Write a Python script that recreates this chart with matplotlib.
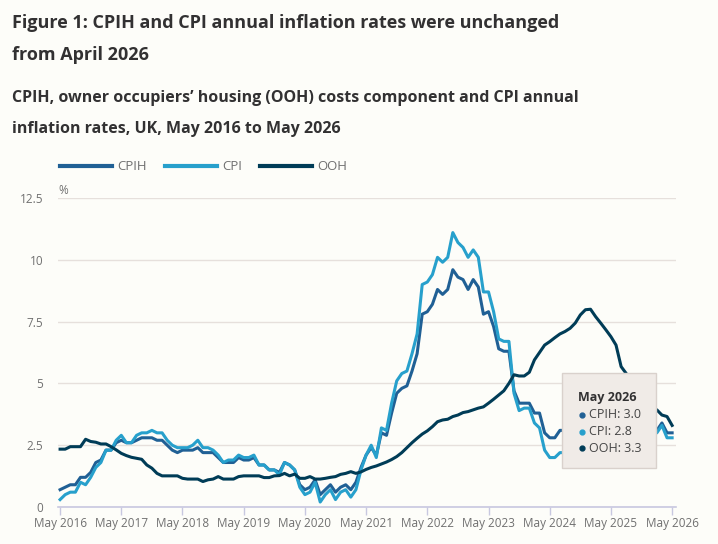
import matplotlib
matplotlib.use("Agg")
import matplotlib.pyplot as plt
import numpy as np
from matplotlib.lines import Line2D
from matplotlib.patches import Rectangle

# ── Data (monthly, May 2016 .. May 2026) ───────────────────────────────────────
cpih = [0.7, 0.8, 0.9, 0.9, 1.2, 1.2, 1.4, 1.8,
        1.9, 2.3, 2.3, 2.6, 2.7, 2.6, 2.6, 2.7, 2.8, 2.8, 2.8, 2.7,
        2.7, 2.5, 2.3, 2.2, 2.3, 2.3, 2.3, 2.4, 2.2, 2.2, 2.2, 2.0,
        1.8, 1.8, 1.8, 2.0, 1.9, 1.9, 2.0, 1.7, 1.7, 1.5, 1.5, 1.4,
        1.8, 1.7, 1.5, 0.9, 0.7, 0.8, 1.1, 0.5, 0.7, 0.9, 0.6, 0.8,
        0.9, 0.7, 1.0, 1.6, 2.1, 2.4, 2.1, 3.0, 2.9, 3.8, 4.6, 4.8,
        4.9, 5.5, 6.2, 7.8, 7.9, 8.2, 8.8, 8.6, 8.8, 9.6, 9.3, 9.2,
        8.8, 9.2, 8.9, 7.8, 7.9, 7.3, 6.4, 6.3, 6.3, 4.7, 4.2, 4.2,
        4.2, 3.8, 3.8, 3.0, 2.8, 2.8, 3.1, 3.1, 2.6, 3.2, 3.5, 3.5,
        3.9, 3.7, 3.4, 4.1, 4.0, 4.1, 3.8, 3.8, 3.6, 3.5, 3.3, 3.4,
        3.1, 3.1, 3.4, 3.0, 3.0]

cpi = [0.3, 0.5, 0.6, 0.6, 1.0, 0.9, 1.2, 1.6,
       1.8, 2.3, 2.3, 2.7, 2.9, 2.6, 2.6, 2.9, 3.0, 3.0, 3.1, 3.0,
       3.0, 2.7, 2.5, 2.4, 2.4, 2.4, 2.5, 2.7, 2.4, 2.4, 2.3, 2.1,
       1.8, 1.9, 1.9, 2.1, 2.0, 2.0, 2.1, 1.7, 1.7, 1.5, 1.5, 1.3,
       1.8, 1.7, 1.5, 0.8, 0.5, 0.6, 1.0, 0.2, 0.5, 0.7, 0.3, 0.6,
       0.7, 0.4, 0.7, 1.5, 2.1, 2.5, 2.0, 3.2, 3.1, 4.2, 5.1, 5.4,
       5.5, 6.2, 7.0, 9.0, 9.1, 9.4, 10.1, 9.9, 10.1, 11.1, 10.7, 10.5,
       10.1, 10.4, 10.1, 8.7, 8.7, 7.9, 6.8, 6.7, 6.7, 4.6, 3.9, 4.0,
       4.0, 3.4, 3.2, 2.3, 2.0, 2.0, 2.2, 2.2, 1.7, 2.3, 2.6, 2.5,
       3.0, 2.8, 2.6, 3.5, 3.4, 3.6, 3.8, 3.8, 3.8, 3.6, 3.2, 3.4,
       3.0, 3.0, 3.3, 2.8, 2.8]

ooh = [2.34, 2.34, 2.44, 2.44, 2.44, 2.74, 2.65, 2.62,
       2.55, 2.55, 2.44, 2.31, 2.17, 2.08, 2.01, 1.97, 1.93, 1.70, 1.57, 1.36,
       1.26, 1.26, 1.26, 1.26, 1.16, 1.13, 1.13, 1.13, 1.03, 1.10, 1.13, 1.23,
       1.13, 1.13, 1.13, 1.23, 1.26, 1.26, 1.26, 1.26, 1.19, 1.19, 1.26, 1.27,
       1.36, 1.26, 1.33, 1.16, 1.16, 1.23, 1.13, 1.13, 1.16, 1.20, 1.23, 1.32,
       1.36, 1.43, 1.36, 1.42, 1.52, 1.60, 1.66, 1.74, 1.82, 1.92, 2.04, 2.20,
       2.40, 2.60, 2.78, 2.95, 3.08, 3.25, 3.45, 3.52, 3.55, 3.66, 3.72, 3.82,
       3.86, 3.93, 4.00, 4.05, 4.20, 4.36, 4.53, 4.70, 5.00, 5.35, 5.30, 5.30,
       5.45, 5.95, 6.25, 6.55, 6.69, 6.85, 7.00, 7.10, 7.23, 7.44, 7.77, 7.98,
       8.00, 7.70, 7.44, 7.17, 6.89, 6.55, 5.68, 5.40, 5.00, 4.60, 4.30, 4.10,
       4.00, 3.93, 3.72, 3.66, 3.30]

x_labels = ["May 2016", "May 2017", "May 2018", "May 2019", "May 2020", "May 2021",
            "May 2022", "May 2023", "May 2024", "May 2025", "May 2026"]
y_ticks = [0, 2.5, 5, 7.5, 10, 12.5]
y_labels = ["0", "2.5", "5", "7.5", "10", "12.5"]

series = [("CPIH", cpih, "#206095"), ("CPI", cpi, "#27a0cc"), ("OOH", ooh, "#003c57")]

# ── Style ──────────────────────────────────────────────────────────────────────
plt.rcParams["font.family"] = ["Open Sans", "DejaVu Sans"]
bg = "#fdfdf9"
grey = "#707070"
dark = "#323132"
grid_c = "#e6e0dc"
axis_c = "#c8c8e0"

W, H = 718, 544
fig = plt.figure(figsize=(W / 100, H / 100), dpi=100)
fig.patch.set_facecolor(bg)

def fx(px):
    return px / W

def fy(py):
    return 1 - py / H

# ── Titles ─────────────────────────────────────────────────────────────────────
fig.text(fx(12), fy(23), "Figure 1: CPIH and CPI annual inflation rates were unchanged",
         fontsize=13, fontweight="bold", color=dark, va="center")
fig.text(fx(12), fy(55), "from April 2026",
         fontsize=13, fontweight="bold", color=dark, va="center")
fig.text(fx(12), fy(98), "CPIH, owner occupiers\u2019 housing (OOH) costs component and CPI annual",
         fontsize=11.5, fontweight="bold", color=dark, va="center")
fig.text(fx(12), fy(129), "inflation rates, UK, May 2016 to May 2026",
         fontsize=11.5, fontweight="bold", color=dark, va="center")

# ── Legend ─────────────────────────────────────────────────────────────────────
leg_x = [60, 165, 260]
for (name, _, col), lx in zip(series, leg_x):
    fig.add_artist(Line2D([fx(lx), fx(lx + 52)], [fy(166), fy(166)], color=col, lw=3,
                          transform=fig.transFigure))
    fig.text(fx(lx + 57), fy(166), name, fontsize=9.5, color=grey, va="center")

# ── Axes ───────────────────────────────────────────────────────────────────────
ax = fig.add_axes([fx(58.3), fy(507), fx(675.7) - fx(58.3), fy(198) - fy(507)])
ax.set_facecolor(bg)
months = np.arange(len(cpih))
for name, vals, col in series:
    ax.plot(months, vals, color=col, lw=2.2, solid_joinstyle="round", zorder=3)

ax.set_xlim(-0.35, 120.7)
ax.set_ylim(0, 12.5)
ax.set_xticks(np.arange(0, 121, 12))
ax.set_xticklabels(x_labels)
ax.set_yticks(y_ticks)
ax.set_yticklabels(y_labels)
ax.tick_params(axis="x", length=6, width=1, color=axis_c, labelsize=8.5,
               labelcolor=grey, pad=1.5)
ax.tick_params(axis="y", length=0, labelsize=8.5, labelcolor=grey, pad=11)
ax.yaxis.grid(True, color=grid_c, lw=1)
ax.set_axisbelow(True)
for s in ["top", "right", "left"]:
    ax.spines[s].set_visible(False)
ax.spines["bottom"].set_color(axis_c)
ax.spines["bottom"].set_linewidth(1.2)
ax.spines["bottom"].set_zorder(4)

fig.text(fx(58), fy(191), "%", fontsize=8.5, color=grey, va="center")

# ── Tooltip ────────────────────────────────────────────────────────────────────
fig.add_artist(Rectangle((fx(562), fy(468)), fx(656) - fx(562), fy(373) - fy(468),
                         transform=fig.transFigure, facecolor="#f0ebe7",
                         edgecolor="#d9d1cc", lw=1, zorder=10))
fig.text(fx(578), fy(398), "May 2026", fontsize=9, fontweight="bold", color=dark,
         va="center", zorder=11)
for i, (name, vals, col) in enumerate(series):
    yy = 415 + i * 16.5
    fig.add_artist(Line2D([fx(582)], [fy(yy)], marker="o", ms=3.5, color=col, lw=0,
                          transform=fig.transFigure, zorder=11))
    fig.text(fx(589), fy(yy), f"{name}: {vals[-1]:.1f}", fontsize=9, color="#444444",
             va="center", zorder=11)

fig.savefig("out.png", dpi=100, facecolor=fig.get_facecolor())
